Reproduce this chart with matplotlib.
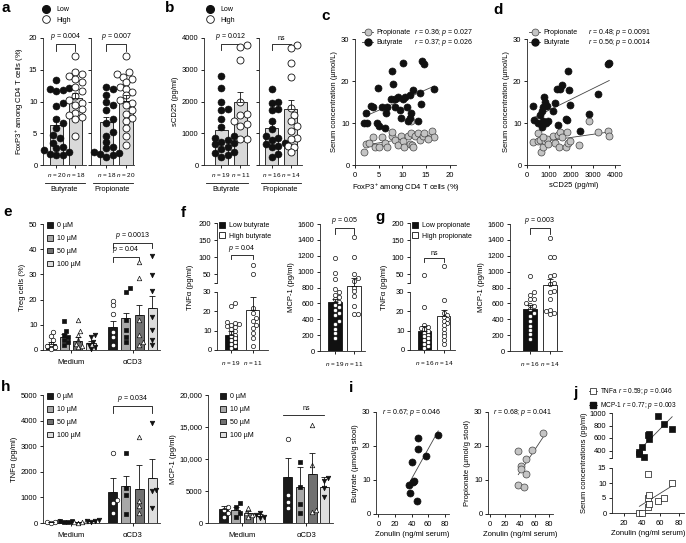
import numpy as np
import matplotlib
matplotlib.use('Agg')
import matplotlib.pyplot as plt
from matplotlib.lines import Line2D
from matplotlib.patches import Patch

plt.rcParams['font.family'] = ['Liberation Sans', 'DejaVu Sans']
plt.rcParams['mathtext.fontset'] = 'custom'
plt.rcParams['mathtext.rm'] = 'Liberation Sans'
plt.rcParams['mathtext.it'] = 'Liberation Sans:italic'
plt.rcParams['mathtext.bf'] = 'Liberation Sans:bold'
plt.rcParams['font.size'] = 5.5
plt.rcParams['axes.linewidth'] = 0.6
plt.rcParams['axes.edgecolor'] = '#222222'
for a in ['xtick', 'ytick']:
    plt.rcParams[a + '.major.width'] = 0.6
    plt.rcParams[a + '.major.size'] = 2.5
    plt.rcParams[a + '.major.pad'] = 1.5
    plt.rcParams[a + '.labelsize'] = 5.5
plt.rcParams['xtick.major.pad'] = 2.5
plt.rcParams['axes.labelsize'] = 5.5
plt.rcParams['axes.labelpad'] = 2

# ---------------- data ----------------
# a: FoxP3+ among CD4 T cells (%)
foxp3_but_low = [13.4, 12.2, 12.0, 11.8, 11.6, 9.7, 9.3, 7.2, 6.6, 5.9, 4.8, 4.3, 3.5, 2.9, 2.6, 2.3, 2.0, 1.8, 1.6, 1.5]
foxp3_but_high = [17.1, 14.6, 14.3, 14.0, 13.5, 13.1, 12.3, 11.7, 10.9, 10.3, 9.8, 9.5, 8.8, 8.2, 7.9, 7.6, 7.2, 4.6]
foxp3_pro_low = [12.3, 11.9, 11.1, 9.9, 9.5, 8.7, 7.3, 6.6, 5.2, 4.6, 3.6, 2.8, 2.6, 2.1, 1.9, 1.7, 1.5, 1.3]
foxp3_pro_high = [17.1, 14.6, 14.3, 13.9, 13.5, 13.0, 12.3, 12.0, 11.5, 11.0, 10.2, 9.7, 9.4, 8.7, 8.1, 7.4, 7.0, 5.8, 4.5, 3.2]
foxp3_mean = [6.3, 10.5, 6.7, 10.1]
foxp3_sem = [1.3, 0.9, 0.9, 0.9]
foxp3_n = ['$n$ = 20', '$n$ = 18', '$n$ = 18', '$n$ = 20']

# b: sCD25 (pg/ml)
scd25_but_low = [2800, 2420, 1980, 1770, 1720, 1450, 1210, 900, 860, 800, 720, 680, 650, 580, 500, 420, 380, 320, 250]
scd25_but_high = [3770, 3730, 3300, 1980, 1620, 1560, 1400, 1280, 1230, 820, 820]
scd25_pro_low = [2400, 1970, 1950, 1770, 1730, 1380, 1120, 900, 850, 800, 700, 650, 600, 560, 350, 260]
scd25_pro_high = [3770, 3700, 3200, 2780, 1800, 1580, 1400, 1230, 1080, 850, 820, 600, 580, 400]
scd25_mean = [1100, 1970, 1150, 1750]
scd25_sem = [160, 330, 170, 300]
scd25_n = ['$n$ = 19', '$n$ = 11', '$n$ = 16', '$n$ = 14']

# c: serum SCFA vs FoxP3+
c_but_x = [2.3, 3.3, 3.8, 1.9, 2.6, 4.9, 4.6, 5.1, 6.3, 5.7, 6.8, 6.5, 7.6, 7.9, 8.1, 8.4, 8.4, 9.0, 9.4, 9.8,
           10.2, 10.2, 10.6, 11.0, 11.5, 12.2, 11.5, 11.9, 11.2, 13.2, 13.8, 14.0, 14.1, 14.6, 16.7]
c_but_y = [12.4, 14.1, 13.8, 10.0, 10.0, 18.3, 10.0, 9.2, 8.8, 13.9, 13.9, 12.4, 15.7, 22.3, 19.3, 15.6, 13.9, 16.3, 13.2, 11.2,
           15.6, 24.3, 16.2, 13.9, 16.7, 17.9, 11.2, 12.4, 10.4, 10.4, 17.1, 14.5, 24.8, 24.0, 18.1]
c_pro_x = [1.9, 2.3, 3.0, 3.7, 4.3, 5.1, 5.7, 6.3, 6.8, 7.8, 7.9, 8.5, 9.0, 9.6, 10.2, 10.4, 11.1, 11.5, 11.9, 12.0,
           12.3, 11.9, 12.6, 13.2, 13.8, 14.3, 16.3, 16.7, 14.6, 15.3]
c_pro_y = [3.2, 5.1, 5.2, 6.6, 4.4, 4.4, 6.7, 5.2, 4.4, 6.8, 7.8, 5.9, 4.7, 6.8, 5.6, 4.4, 6.8, 5.1, 7.6, 4.7,
           4.4, 10.4, 6.9, 7.6, 5.9, 6.8, 8.2, 6.7, 7.7, 6.1]
c_stats = ['$r$ = 0.36; $p$ = 0.027', '$r$ = 0.37; $p$ = 0.026']

# d: serum SCFA vs sCD25
d_but_x = [290, 515, 590, 670, 745, 790, 820, 865, 925, 670, 745, 970, 1170, 1270, 1380, 1500, 1605, 1850, 1925, 1955,
           1425, 1760, 1805, 2410, 2820, 3240, 3670, 3740, 320]
d_but_y = [14.1, 10.1, 12.0, 12.8, 13.8, 16.3, 14.9, 10.1, 14.1, 9.0, 10.4, 10.4, 12.9, 14.8, 18.1, 18.1, 19.1, 22.3, 17.9, 14.4,
           9.6, 10.9, 10.6, 8.0, 12.2, 16.9, 24.0, 24.4, 10.8]
d_pro_x = [290, 520, 500, 590, 630, 720, 820, 900, 970, 750, 1170, 1270, 1400, 1470, 1500, 1590, 1805, 1770, 1880, 1955,
           2380, 2820, 3240, 3670, 3740]
d_pro_y = [5.4, 7.6, 5.7, 6.0, 3.2, 4.4, 5.7, 6.1, 5.1, 6.7, 6.9, 5.2, 7.1, 4.4, 7.8, 6.7, 7.8, 4.4, 5.2, 5.7,
           4.7, 10.4, 7.8, 8.2, 7.0]
d_stats = ['$r$ = 0.48; $p$ = 0.0091', '$r$ = 0.56; $p$ = 0.0014']

# e: Treg cells (%), Medium / aCD3 x 0, 10, 50, 100 uM
conc_labels = ['0 µM', '10 µM', '50 µM', '100 µM']
treg_med_mean = [2.5, 5.0, 3.6, 2.9]
treg_med_sem = [0.8, 1.2, 1.5, 0.8]
treg_cd3_mean = [9.3, 12.7, 13.9, 16.7]
treg_cd3_sem = [2.4, 2.0, 4.0, 4.7]
treg_med_pts = [[7.0, 5.6, 4.0, 2.5, 1.5, 1.0, 0.5], [11.5, 7.5, 6.0, 5.0, 4.0, 3.0, 2.0],
                [12.0, 7.5, 5.9, 4.0, 2.5, 1.5, 1.0], [5.9, 5.0, 3.2, 2.0, 1.0, 0.5]]
treg_cd3_pts = [[19.5, 17.8, 14.3, 7.0, 5.0, 2.0], [24.5, 23.2, 12.0, 8.0, 5.0, 3.0],
                [35.0, 28.6, 12.0, 6.0, 3.0, 2.0], [37.5, 29.8, 23.4, 13.0, 8.0, 4.0, 2.0]]

# f: low vs high butyrate ; g: low vs high propionate
f_tnf_mean = [8.0, 20.5]
f_tnf_sem = [1.7, 7.0]
f_tnf_low = [24.5, 23.0, 14.5, 14.0, 13.5, 13.0, 12.5, 12.0, 11.0, 10.0, 9.0, 8.0, 7.0, 6.0, 5.0, 4.0, 3.0, 2.0, 1.0]
f_tnf_high = [21.5, 19.0, 16.5, 15.0, 13.0, 11.5, 9.0, 6.0, 2.0]
f_tnf_high_top = [78, 52]
f_mcp_mean = [615, 815]
f_mcp_sem = [40, 100]
f_mcp_low = [1170, 980, 910, 780, 740, 710, 680, 660, 620, 580, 560, 520, 480, 450, 380, 340, 280, 230, 160]
f_mcp_high = [1430, 1190, 970, 920, 880, 800, 750, 690, 570, 470, 470]
f_n = ['$n$ = 19', '$n$ = 11']

g_tnf_mean = [10.0, 17.4]
g_tnf_sem = [2.2, 3.5]
g_tnf_low = [22.0, 13.0, 12.0, 11.5, 11.0, 10.0, 9.0, 8.0, 7.0, 6.0, 5.0, 4.0, 3.0, 2.0, 1.0]
g_tnf_low_top = [48]
g_tnf_high = [26.0, 19.0, 18.0, 17.0, 16.0, 15.0, 14.0, 13.0, 11.0, 9.0, 7.0, 5.0, 3.0]
g_tnf_high_top = [76]
g_mcp_mean = [535, 830]
g_mcp_sem = [42, 75]
g_mcp_low = [950, 740, 700, 660, 650, 600, 580, 570, 530, 480, 440, 380, 320, 270, 210, 150]
g_mcp_high = [1420, 1190, 1180, 960, 950, 860, 840, 760, 740, 650, 520, 500, 480, 460]
g_n = ['$n$ = 16', '$n$ = 14']

# h: in vitro TNFa and MCP-1 (pg/ml)
h_tnf_med_mean = [40, 60, 40, 70]
h_tnf_med_sem = [15, 15, 10, 20]
h_tnf_cd3_mean = [1210, 1430, 1320, 1750]
h_tnf_cd3_sem = [540, 400, 930, 750]
h_tnf_med_pts = [[60, 40, 20, 10], [90, 70, 40, 20], [60, 40, 20, 10], [110, 90, 60, 40]]
h_tnf_cd3_pts = [[2730, 900, 780, 390], [2750, 1360, 1100, 350], [3340, 840, 650, 390], [3900, 1300, 1240, 580]]
h_mcp_med_mean = [2200, 2000, 1500, 1150]
h_mcp_med_sem = [400, 500, 350, 200]
h_mcp_cd3_mean = [7200, 5700, 7700, 5700]
h_mcp_cd3_sem = [2900, 3100, 3200, 1450]
h_mcp_med_pts = [[2560, 2040, 1500, 1000], [3080, 2560, 1500, 1000], [2400, 1500, 1200, 900], [1500, 1300, 1000, 800]]
h_mcp_cd3_pts = [[13200, 4400, 3300, 2300], [9600, 5600, 2900, 1500], [15300, 9000, 2000, 1700], [7000, 6500, 5400, 4100]]

# i: stool SCFA vs zonulin
i_but_x = [37, 38, 40, 41, 43, 46, 48, 48, 57, 72]
i_but_y = [8.5, 6.2, 15.3, 9.5, 9.8, 3.9, 22.3, 19.0, 17.0, 23.2]
i_pro_x = [38, 38, 41, 42, 46, 48, 48, 57, 72]
i_pro_y = [18.4, 8.6, 14.0, 13.3, 7.9, 16.3, 11.8, 18.9, 23.9]

# j: serum cytokines vs zonulin
j_tnf_x = [37, 40, 46, 46, 47, 48, 48, 57, 64, 73]
j_tnf_y = [0, 0, 2, 13, 5, 6, 3, 4, 5, 10]
j_mcp_x = [37, 37, 40, 42, 46, 48, 48, 57, 64, 73]
j_mcp_y = [370, 340, 460, 290, 650, 660, 580, 960, 830, 750]

# ---------------- helpers ----------------
W, H = 686, 543
fig = plt.figure(figsize=(W / 100, H / 100), dpi=100)
fig.patch.set_facecolor('white')
SMALL = 5.0


def add_ax(l, t, r, b):
    ax = fig.add_axes([l / W, 1 - b / H, (r - l) / W, (b - t) / H])
    ax.spines[['top', 'right']].set_visible(False)
    ax.patch.set_alpha(0)
    return ax


def ppu(ax):
    bb = ax.get_position()
    x0, x1 = ax.get_xlim()
    y0, y1 = ax.get_ylim()
    return bb.width * W / (x1 - x0), bb.height * H / (y1 - y0)


def swarm(vals, ppy, d):
    vals = np.asarray(vals, float)
    offs = np.zeros(len(vals))
    placed = []
    for i in np.argsort(vals):
        y = vals[i] * ppy
        for k in range(80):
            o = ((k + 1) // 2) * d * 0.45 * (1 if k % 2 else -1)
            if all((o - px) ** 2 + (y - py) ** 2 >= (0.9 * d) ** 2 for px, py in placed):
                break
        placed.append((o, y))
        offs[i] = o
    return offs


def dots(ax, xc, vals, d, marker='o', **kw):
    ppx, ppy = ppu(ax)
    offs = swarm(vals, ppy, d)
    ax.scatter(xc + offs / ppx, vals, s=(d * 0.72) ** 2, marker=marker, clip_on=False, zorder=3, **kw)


def bars(ax, xs, means, sems, colors, width):
    ax.bar(xs, means, width=width, color=colors, edgecolor='#111111', linewidth=0.6, zorder=1)
    ax.errorbar(xs, means, yerr=[np.zeros(len(sems)), sems], fmt='none', ecolor='#111111',
                elinewidth=0.6, capsize=2, capthick=0.6, zorder=4)


def bracket(ax, x0, x1, y, drop, text, fs=SMALL):
    ax.plot([x0, x0, x1, x1], [y - drop, y, y, y - drop], color='#111111', lw=0.6, clip_on=False)
    ax.text((x0 + x1) / 2, y + drop * 0.3, text, ha='center', va='bottom', fontsize=fs, clip_on=False)


def legend_at(ax, handles, labels, xpx, ypx, **kw):
    opts = dict(loc='upper left', frameon=False, borderpad=0, borderaxespad=0,
                handletextpad=0.5, fontsize=SMALL, labelspacing=0.55)
    opts.update(kw)
    return ax.legend(handles, labels, bbox_to_anchor=(xpx / W, 1 - ypx / H),
                     bbox_transform=fig.transFigure, **opts)


def letter(xpx, ypx, s):
    fig.text(xpx / W, 1 - ypx / H, s, fontsize=11, fontweight='bold', ha='left', va='center')


def group_label(ax, name):
    tr = ax.get_xaxis_transform()
    x0, x1 = ax.get_xlim()
    ax.plot([x0 + 0.1, x1 - 0.05], [-0.14, -0.14], transform=tr, color='#111111', lw=0.6, clip_on=False)
    ax.text((x0 + x1) / 2, -0.165, name, transform=tr, ha='center', va='top', fontsize=5.3)


def pair_panel(box, xlim, ylim, yticks, means, sems, lo, hi, nlab, group, ptext, py, pdrop, labels=True):
    ax = add_ax(*box)
    ax.set_xlim(*xlim)
    ax.set_ylim(*ylim)
    bars(ax, [0, 1], means, sems, ['#d9d9d9', '#d9d9d9'], 0.68)
    dots(ax, 0, lo, 7, facecolor='#111111', edgecolor='#111111', linewidths=0.4)
    dots(ax, 1, hi, 7, facecolor='white', edgecolor='#111111', linewidths=0.6)
    ax.set_yticks(yticks)
    if not labels:
        ax.set_yticklabels([])
    ax.set_xticks([0, 1])
    ax.set_xticklabels(nlab, fontsize=4.6)
    ax.tick_params(axis='x', pad=1.5)
    bracket(ax, 0, 1, py, pdrop, ptext)
    group_label(ax, group)
    return ax


low_high = [Line2D([], [], ls='none', marker='o', ms=5.5, mfc='#111111', mec='#111111'),
            Line2D([], [], ls='none', marker='o', ms=5.5, mfc='white', mec='#111111', mew=0.6)]

# ---------------- a ----------------
letter(1, 8, 'a')
a1 = pair_panel((43, 38, 86, 165), (-0.7, 1.55), (0, 20), [0, 5, 10, 15, 20], foxp3_mean[:2], foxp3_sem[:2],
                foxp3_but_low, foxp3_but_high, foxp3_n[:2], 'Butyrate', '$p$ = 0.004', 19.0, 1.0)
a1.set_ylabel('FoxP3$^{+}$ among CD4 T cells (%)')
pair_panel((91, 38, 134, 165), (-0.78, 1.4), (0, 20), [0, 5, 10, 15, 20], foxp3_mean[2:], foxp3_sem[2:],
           foxp3_pro_low, foxp3_pro_high, foxp3_n[2:], 'Propionate', '$p$ = 0.007', 19.0, 1.0, labels=False)
legend_at(a1, low_high, ['Low', 'High'], 39, 6)

# ---------------- b ----------------
letter(165, 8, 'b')
b1 = pair_panel((204, 38, 249, 165), (-0.9, 1.45), (0, 4000), [0, 1000, 2000, 3000, 4000], scd25_mean[:2],
                scd25_sem[:2], scd25_but_low, scd25_but_high, scd25_n[:2], 'Butyrate', '$p$ = 0.012', 3810, 200)
b1.set_ylabel('sCD25 (pg/ml)')
pair_panel((259, 38, 302, 165), (-0.68, 1.58), (0, 4000), [0, 1000, 2000, 3000, 4000], scd25_mean[2:],
           scd25_sem[2:], scd25_pro_low, scd25_pro_high, scd25_n[2:], 'Propionate', 'ns', 3810, 200, labels=False)
legend_at(b1, low_high, ['Low', 'High'], 203, 6)


# ---------------- c, d ----------------
def scfa_scatter(box, xlim, xticks, xlab, bx, by, px, py, stats, leg_x, stat_x, letter_xy, ltr):
    letter(*letter_xy, ltr)
    ax = add_ax(*box)
    ax.set_xlim(*xlim)
    ax.set_ylim(0, 30)
    ax.set_yticks([0, 10, 20, 30])
    ax.set_xticks(xticks)
    for xs, ys, fc, ec in [(px, py, '#c4c4c4', '#444444'), (bx, by, '#111111', '#111111')]:
        ax.scatter(xs, ys, s=(7 * 0.72) ** 2, facecolor=fc, edgecolor=ec, linewidths=0.5, zorder=3, clip_on=False)
        k, b0 = np.polyfit(xs, ys, 1)
        xx = np.array([min(xs), max(xs)])
        ax.plot(xx, k * xx + b0, color='#444444', lw=0.6, zorder=2)
    ax.set_ylabel('Serum concentration (µmol/L)')
    ax.set_xlabel(xlab)
    h = [Line2D([], [], color='#444444', lw=0.6, marker='o', ms=5, mfc='#c4c4c4', mec='#444444', mew=0.5),
         Line2D([], [], color='#444444', lw=0.6, marker='o', ms=5, mfc='#111111', mec='#111111')]
    legend_at(ax, h, ['Propionate', 'Butyrate'], leg_x, 29, handlelength=1.6, labelspacing=0.45,
              handletextpad=0.4)
    for k, s in enumerate(stats):
        fig.text(stat_x / W, 1 - (33 + 10 * k) / H, s, fontsize=SMALL, va='center', ha='left')
    return ax


scfa_scatter((355, 39, 456, 165), (0, 21.3), [0, 5, 10, 15, 20], 'FoxP3$^{+}$ among CD4 T cells (%)',
             c_but_x, c_but_y, c_pro_x, c_pro_y, c_stats, 362, 414, (321, 16), 'c')
scfa_scatter((527, 39, 620, 165), (0, 4230), [0, 1000, 2000, 3000, 4000], 'sCD25 (pg/ml)',
             d_but_x, d_but_y, d_pro_x, d_pro_y, d_stats, 529, 588, (493, 10), 'd')

# ---------------- e, h (dose panels) ----------------
bar_cols = ['#1a1a1a', '#a8a8a8', '#717171', '#dedede']
pt_style = [dict(marker='o', facecolor='white', edgecolor='#111111'),
            dict(marker='s', facecolor='#111111', edgecolor='#111111'),
            dict(marker='^', facecolor='white', edgecolor='#111111'),
            dict(marker='v', facecolor='#111111', edgecolor='#111111')]
conc_handles = [Patch(facecolor=c, edgecolor='#111111', linewidth=0.6) for c in bar_cols]


def dose_panel(box, xlim, pitch, width, ylim, yticks, med_m, med_s, cd3_m, cd3_s, med_p, cd3_p, d):
    ax = add_ax(*box)
    ax.set_xlim(*xlim)
    ax.set_ylim(*ylim)
    offs = (np.arange(4) - 1.5) * pitch
    for g, (m, s, pts) in enumerate([(med_m, med_s, med_p), (cd3_m, cd3_s, cd3_p)]):
        bars(ax, g + offs, m, s, bar_cols, width)
        for k in range(4):
            dots(ax, g + offs[k], pts[k], d, linewidths=0.5, **pt_style[k])
    ax.set_yticks(yticks)
    ax.set_xticks([0, 1])
    ax.set_xticklabels(['Medium', 'αCD3'], fontsize=5.5)
    ax.tick_params(axis='x', pad=4)
    return ax, offs


letter(3, 212, 'e')
e, eo = dose_panel((43, 224, 160, 350), (-0.455, 1.447), 0.216, 0.15, (0, 50), [0, 10, 20, 30, 40, 50],
                   treg_med_mean, treg_med_sem, treg_cd3_mean, treg_cd3_sem, treg_med_pts, treg_cd3_pts, 4.5)
e.set_ylabel('Treg cells (%)')
bracket(e, 1 + eo[0], 1 + eo[3], 42.5, 2.2, '$p$ = 0.0013')
bracket(e, 1 + eo[0], 1 + eo[2], 37.0, 2.2, '$p$ = 0.04')
legend_at(e, conc_handles, conc_labels, 47, 222, handlelength=0.9, handleheight=0.9, labelspacing=0.8,
          handletextpad=0.6)

letter(1, 387, 'h')
h1, ho = dose_panel((43, 395, 160, 523), (-0.455, 1.447), 0.216, 0.15, (0, 5000), [0, 1000, 2000, 3000, 4000, 5000],
                    h_tnf_med_mean, h_tnf_med_sem, h_tnf_cd3_mean, h_tnf_cd3_sem, h_tnf_med_pts, h_tnf_cd3_pts, 4.5)
h1.set_ylabel('TNFα (pg/ml)')
bracket(h1, 1 + ho[0], 1 + ho[3], 4560, 250, '$p$ = 0.034')
legend_at(h1, conc_handles, conc_labels, 47, 393, handlelength=0.9, handleheight=0.9, labelspacing=0.8,
          handletextpad=0.6)

h2, ho2 = dose_panel((208, 395, 333, 523), (-0.53, 1.42), 0.19, 0.14, (0, 20000), [0, 5000, 10000, 15000, 20000],
                     h_mcp_med_mean, h_mcp_med_sem, h_mcp_cd3_mean, h_mcp_cd3_sem, h_mcp_med_pts, h_mcp_cd3_pts, 4.5)
h2.set_yticklabels(['0', '5000', '10,000', '15,000', '20,000'])
h2.set_ylabel('MCP-1 (pg/ml)')
h2.plot([1 + ho2[0] - 0.07, 1 + ho2[3]], [16900, 16900], color='#111111', lw=0.6)
h2.text(1 + (ho2[0] + ho2[3]) / 2, 17400, 'ns', ha='center', va='bottom', fontsize=SMALL)
legend_at(h2, conc_handles, conc_labels, 220, 393, handlelength=0.9, handleheight=0.9, labelspacing=0.8,
          handletextpad=0.6)


# ---------------- f, g ----------------
def tnf_panel(lr, xlim, width, means, sems, low, high, low_top, high_top, nlab, ptext, pdrop_y):
    l, r = lr
    up = add_ax(l, 223, r, 283)
    lo = add_ax(l, 292, r, 350)
    for ax in (up, lo):
        ax.set_xlim(*xlim)
    up.set_ylim(25, 200)
    lo.set_ylim(0, 30)
    up.spines['bottom'].set_visible(False)
    up.set_xticks([])
    up.set_yticks([25, 50, 100, 150, 200])
    up.set_yticklabels(['', '50', '100', '150', '200'])
    lo.set_yticks([0, 10, 20, 30])
    bars(lo, [0, 1], means, sems, ['#111111', 'white'], width)
    dots(lo, 0, low, 4.2, facecolor='white', edgecolor='#111111', linewidths=0.5)
    dots(lo, 1, high, 4.2, facecolor='white', edgecolor='#111111', linewidths=0.5)
    if low_top:
        dots(up, 0, low_top, 4.2, facecolor='white', edgecolor='#111111', linewidths=0.5)
    if high_top:
        dots(up, 1, high_top, 4.2, facecolor='white', edgecolor='#111111', linewidths=0.5)
    lo.set_xticks([0, 1])
    lo.set_xticklabels(nlab, fontsize=4.6)
    lo.tick_params(axis='x', pad=4)
    bracket(up, 0, 1, pdrop_y, 12, ptext)
    fig.text((l - 26) / W, 1 - 287 / H, 'TNFα (pg/ml)', rotation=90, ha='center', va='center', fontsize=5.5)
    return up, lo


def mcp_panel(lr, xlim, width, means, sems, low, high, nlab, ptext):
    l, r = lr
    ax = add_ax(l, 224, r, 351)
    ax.set_xlim(*xlim)
    ax.set_ylim(0, 1600)
    ax.set_yticks(np.arange(0, 1601, 200))
    bars(ax, [0, 1], means, sems, ['#111111', 'white'], width)
    dots(ax, 0, low, 4.2, facecolor='white', edgecolor='#111111', linewidths=0.5)
    dots(ax, 1, high, 4.2, facecolor='white', edgecolor='#111111', linewidths=0.5)
    ax.set_xticks([0, 1])
    ax.set_xticklabels(nlab, fontsize=4.6)
    ax.tick_params(axis='x', pad=4)
    bracket(ax, 0, 1, 1555, 80, ptext)
    ax.set_ylabel('MCP-1 (pg/ml)')
    return ax


letter(181, 213, 'f')
fu, fl = tnf_panel((217, 268), (-0.65, 1.72), 0.6, f_tnf_mean, f_tnf_sem, f_tnf_low, f_tnf_high, [],
                   f_tnf_high_top, f_n, '$p$ = 0.04', 107)
legend_at(fu, [Patch(facecolor='#111111', edgecolor='#111111', lw=0.6),
               Patch(facecolor='white', edgecolor='#111111', lw=0.6)], ['Low butyrate', 'High butyrate'],
          219, 222, handlelength=0.9, handleheight=0.9, labelspacing=0.45, handletextpad=0.6)
mcp_panel((320, 365), (-0.79, 1.58), 0.7, f_mcp_mean, f_mcp_sem, f_mcp_low, f_mcp_high, f_n, '$p$ = 0.05')

letter(375, 217, 'g')
gu, gl = tnf_panel((410, 455), (-0.76, 1.6), 0.68, g_tnf_mean, g_tnf_sem, g_tnf_low, g_tnf_high, g_tnf_low_top,
                   g_tnf_high_top, g_n, 'ns', 98)
legend_at(gu, [Patch(facecolor='#111111', edgecolor='#111111', lw=0.6),
               Patch(facecolor='white', edgecolor='#111111', lw=0.6)], ['Low propionate', 'High propionate'],
          412, 222, handlelength=0.9, handleheight=0.9, labelspacing=0.45, handletextpad=0.6)
mcp_panel((510, 562), (-1.0, 1.6), 0.7, g_mcp_mean, g_mcp_sem, g_mcp_low, g_mcp_high, g_n, '$p$ = 0.003')


# ---------------- i ----------------
def zon_panel(box, xs, ys, fc, ec, ylab, stat):
    ax = add_ax(*box)
    ax.set_xlim(-3, 85)
    ax.set_ylim(0, 30)
    ax.set_xticks([0, 20, 40, 60, 80])
    ax.set_yticks([0, 10, 20, 30])
    ax.scatter(xs, ys, s=(7 * 0.72) ** 2, facecolor=fc, edgecolor=ec, linewidths=0.5, zorder=3, clip_on=False)
    k, b0 = np.polyfit(xs, ys, 1)
    xx = np.array([min(xs), max(xs)])
    ax.plot(xx, k * xx + b0, color='#444444', lw=0.6, zorder=2)
    ax.set_ylabel(ylab)
    ax.set_xlabel('Zonulin (ng/ml serum)')
    ax.text(0.08, 1.0, stat, transform=ax.transAxes, ha='left', va='center', fontsize=SMALL)
    return ax


letter(349, 388, 'i')
zon_panel((376, 412, 449, 514), i_but_x, i_but_y, '#111111', '#111111', 'Butyrate (µmol/g stool)',
          '$r$ = 0.67; $p$ = 0.046')
zon_panel((488, 412, 553, 514), i_pro_x, i_pro_y, '#c4c4c4', '#444444', 'Propionate (µmol/g stool)',
          '$r$ = 0.68; $p$ = 0.041')

# ---------------- j ----------------
letter(573, 393, 'j')
ju = add_ax(612, 413, 684, 458)
jl = add_ax(612, 468, 684, 513)
for ax in (ju, jl):
    ax.set_xlim(7, 86)
ju.set_ylim(280, 1000)
jl.set_ylim(0, 15)
ju.spines['bottom'].set_visible(False)
ju.set_xticks([])
ju.set_yticks([280, 400, 600, 800, 1000])
ju.set_yticklabels(['', '400', '600', '800', '1000'])
jl.set_yticks([0, 5, 10, 15])
jl.set_xticks([20, 40, 60, 80])
for ax, xs, ys, fc in [(ju, j_mcp_x, j_mcp_y, '#111111'), (jl, j_tnf_x, j_tnf_y, 'white')]:
    ax.scatter(xs, ys, s=(6 * 0.72) ** 2, marker='s', facecolor=fc, edgecolor='#111111', linewidths=0.5,
               zorder=3, clip_on=False)
    k, b0 = np.polyfit(xs, ys, 1)
    xx = np.array([min(xs), max(xs)])
    ax.plot(xx, k * xx + b0, color='#444444', lw=0.6, zorder=2)
jl.set_xlabel('Zonulin (ng/ml serum)')
fig.text(585 / W, 1 - 463 / H, 'Serum concentrations (pg/ml)', rotation=90, ha='center', va='center', fontsize=5.5)
legend_at(ju, [Line2D([], [], color='#444444', lw=0.6, marker='s', ms=4, mfc='white', mec='#111111', mew=0.5),
               Line2D([], [], color='#444444', lw=0.6, marker='s', ms=4, mfc='#111111', mec='#111111')],
          ['TNFa $r$ = 0.59; $p$ = 0.046', 'MCP-1 $r$ = 0.77; $p$ = 0.003'], 589, 386, handlelength=1.3,
          labelspacing=0.45, handletextpad=0.4, fontsize=4.7)

fig.savefig('out.png', dpi=100, facecolor='white')
